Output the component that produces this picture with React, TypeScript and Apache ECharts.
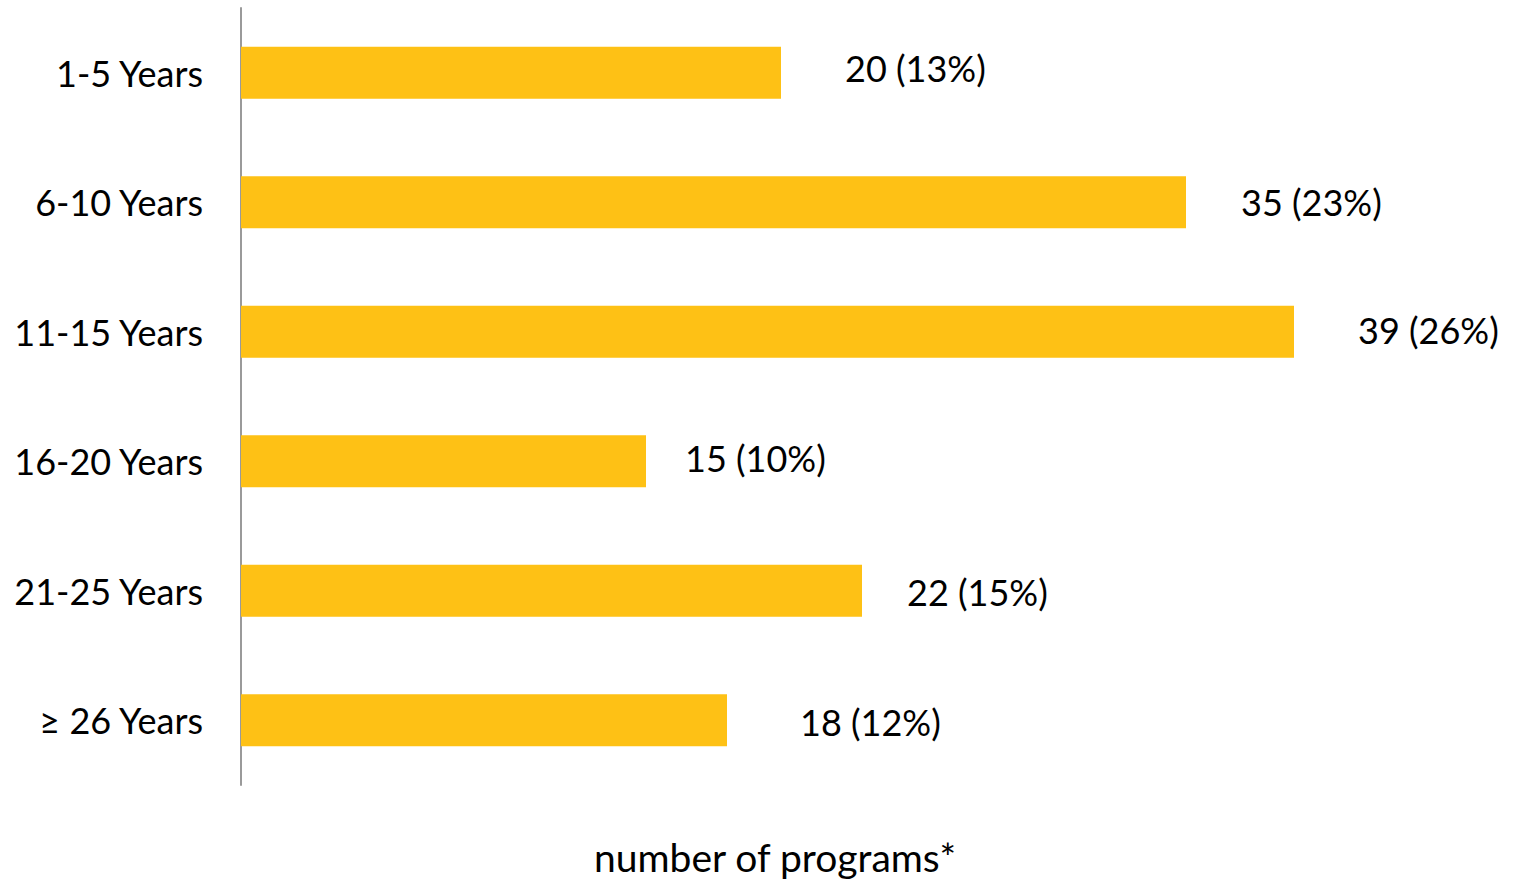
import React, { useEffect, useRef } from "react";
import * as echarts from "echarts";

const categories = ["1-5 Years", "6-10 Years", "11-15 Years", "16-20 Years", "21-25 Years", "≥ 26 Years"];
const barValues = [20, 35, 39, 15, 23, 18];
const labelTexts = ["20 (13%)", "35 (23%)", "39 (26%)", "15 (10%)", "22 (15%)", "18 (12%)"];
const labelDx = [64, 55, 64, 39, 45, 73];
const labelDy = [-5, 0, -2, -3, 1, 2];
const axisName = "number of programs*";

const FONT = "Lato, 'Noto Sans', sans-serif";

export default function App() {
  const ref = useRef<HTMLDivElement>(null);
  useEffect(() => {
    if (!ref.current) return;
    const chart = echarts.init(ref.current, undefined, { renderer: "svg" });
    chart.setOption({
      animation: false,
      backgroundColor: "#ffffff",
      grid: { left: 241, width: 1080, top: 8, bottom: 94, containLabel: false, outerBoundsMode: "none" },
      xAxis: {
        type: "value",
        min: 0,
        max: 40,
        axisLine: { show: false },
        axisTick: { show: false },
        axisLabel: { show: false },
        splitLine: { show: false },
        name: axisName,
        nameLocation: "middle",
        nameGap: 52,
        nameTextStyle: { fontFamily: FONT, fontSize: 39, color: "#000", padding: [0, 12, 0, 0] },
      },
      yAxis: {
        type: "category",
        inverse: true,
        data: categories,
        axisLine: { show: true, lineStyle: { color: "#9a9a9a", width: 2 } },
        axisTick: { show: false },
        axisLabel: { fontFamily: FONT, fontSize: 36, color: "#000", margin: 38 },
      },
      series: [
        {
          type: "bar",
          barWidth: "40%",
          itemStyle: { color: "#FEC115" },
          data: barValues.map((v, i) => ({
            value: v,
            label: {
              show: true,
              position: "right",
              distance: labelDx[i],
              offset: [0, labelDy[i]],
              formatter: labelTexts[i],
              fontFamily: FONT,
              fontSize: 36,
              color: "#000",
            },
          })),
        },
      ],
    });
    return () => chart.dispose();
  }, []);
  return <div ref={ref} style={{ position: "absolute", left: 0, top: 0, width: 1517, height: 879 }} />;
}
